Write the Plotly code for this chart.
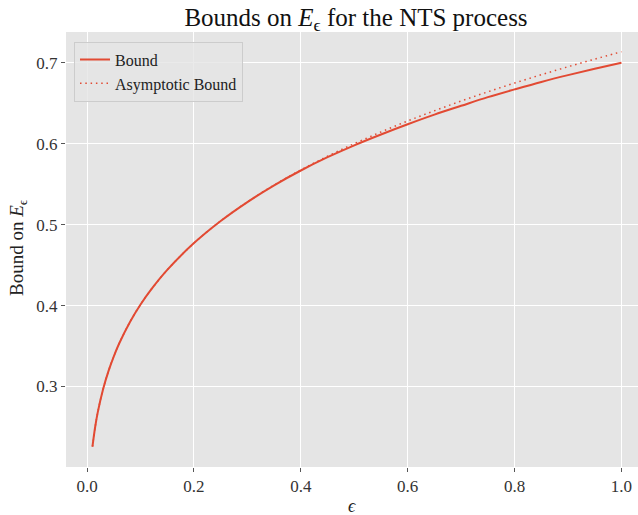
import plotly.graph_objects as go

eps = [0.01, 0.015, 0.02, 0.03, 0.04, 0.05, 0.06, 0.08, 0.1, 0.12, 0.15, 0.2, 0.25,
       0.3, 0.35, 0.4, 0.45, 0.5, 0.55, 0.6, 0.65, 0.7, 0.75, 0.8, 0.85, 0.9, 0.95, 1.0]
asymptotic = [0.2257, 0.2497, 0.2684, 0.2970, 0.3191, 0.3374, 0.3532, 0.3795, 0.4013,
              0.4200, 0.4441, 0.4772, 0.5046, 0.5281, 0.5489, 0.5675, 0.5845, 0.6001,
              0.6145, 0.6281, 0.6407, 0.6527, 0.6641, 0.6749, 0.6852, 0.6951, 0.7045, 0.7136]
bound = [0.2257, 0.2497, 0.2684, 0.2970, 0.3191, 0.3374, 0.3532, 0.3795, 0.4013,
         0.4200, 0.4441, 0.4772, 0.5045, 0.5279, 0.5486, 0.5669, 0.5833, 0.5980,
         0.6114, 0.6240, 0.6359, 0.6468, 0.6575, 0.6671, 0.6763, 0.6847, 0.6925, 0.7000]
x_ticks = [0.0, 0.2, 0.4, 0.6, 0.8, 1.0]
y_ticks = [0.3, 0.4, 0.5, 0.6, 0.7]

RED = "#E24A33"
FONT = "Liberation Serif"

fig = go.Figure()
fig.add_trace(go.Scatter(x=eps, y=bound, mode="lines", name="Bound",
                         line=dict(color=RED, width=2), line_shape="spline"))
fig.add_trace(go.Scatter(x=eps, y=asymptotic, mode="lines", name="Asymptotic Bound",
                         line=dict(color=RED, width=1.5, dash="1.5px,3.8px"),
                         line_shape="spline"))

fig.update_layout(
    width=638, height=515,
    margin=dict(l=66, r=0, t=32, b=48, autoexpand=False),
    paper_bgcolor="white", plot_bgcolor="#E5E5E5",
    font=dict(family=FONT, size=16, color="#222222"),
    title=dict(text="Bounds on <i>E</i><sub>ϵ</sub> for the NTS process",
               x=356 / 638, xref="container", xanchor="center",
               y=1 - 17 / 515, yref="container", yanchor="middle",
               font=dict(family=FONT, size=25, color="#111111")),
    showlegend=True,
    legend=dict(x=0.014, y=0.978, xanchor="left", yanchor="top",
                bgcolor="rgba(229,229,229,0.8)", bordercolor="#CCCCCC", borderwidth=1,
                font=dict(family=FONT, size=16, color="#222222"),
                tracegroupgap=0, itemwidth=30),
    xaxis=dict(range=[-0.0395, 1.031], tickvals=x_ticks,
               ticktext=[f"{v:.1f}" for v in x_ticks], automargin=False,
               showgrid=True, gridcolor="white", gridwidth=1, zeroline=False,
               ticks="outside", ticklen=4, tickcolor="#555555", tickwidth=1,
               tickfont=dict(family=FONT, size=17, color="#333333"),
               showline=False),
    yaxis=dict(range=[0.2006, 0.738], tickvals=y_ticks,
               ticktext=[f"{v:.1f}" for v in y_ticks], automargin=False,
               showgrid=True, gridcolor="white", gridwidth=1, zeroline=False,
               ticks="outside", ticklen=4, tickcolor="#555555", tickwidth=1,
               tickfont=dict(family=FONT, size=17, color="#333333"),
               showline=False),
    annotations=[
        dict(text="<i>ϵ</i>", xref="paper", yref="paper", x=0.5, y=(467 - 506) / 435,
             xanchor="center", yanchor="middle", showarrow=False,
             font=dict(family=FONT, size=18, color="#222222")),
        dict(text="Bound on <i>E</i><sub>ϵ</sub>", xref="paper", yref="paper",
             x=(18 - 66) / 572, y=(467 - 248) / 435, textangle=-90,
             xanchor="center", yanchor="middle", showarrow=False,
             font=dict(family=FONT, size=19, color="#222222")),
    ],
)

fig.write_html("out.html", config={"displayModeBar": False},
               post_script="document.body.style.margin='0px';document.body.style.overflow='hidden';")
